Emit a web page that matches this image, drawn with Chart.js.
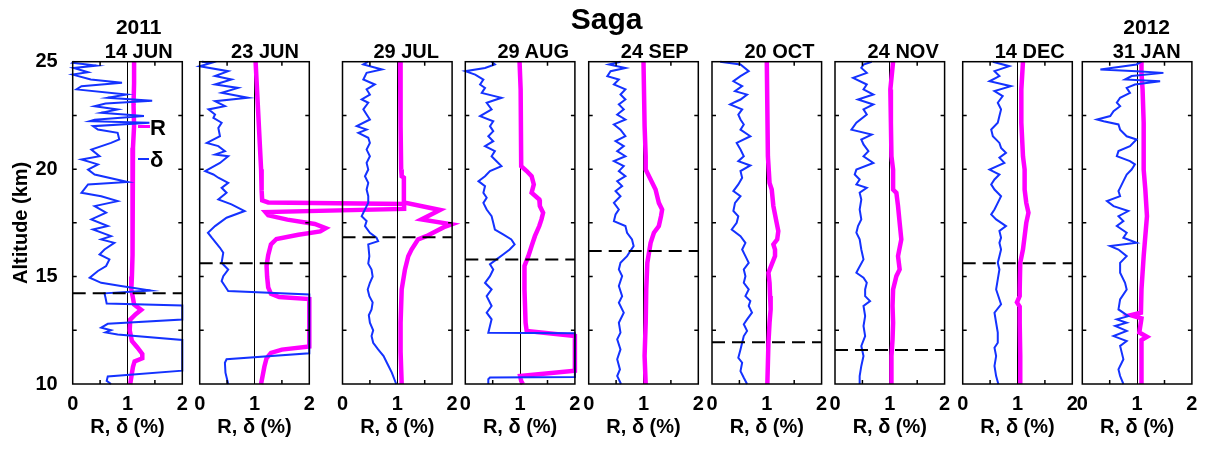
<!DOCTYPE html>
<html>
<head>
<meta charset="utf-8">
<script src="https://cdn.jsdelivr.net/npm/chart.js@4.4.1/dist/chart.umd.min.js"></script>
<style>
  html, body { margin: 0; padding: 0; background: #fff; }
  #wrap { position: relative; width: 1208px; height: 452px; overflow: hidden;
          font-family: 'Liberation Sans', Arial, sans-serif; color: #000; }
  #wrap canvas { position: absolute; left: 0; top: 0; }
  .lbl { position: absolute; font-weight: bold; line-height: 1; white-space: nowrap; transform: translateX(-50%); }
  .leg { position: absolute; font-weight: bold; line-height: 1; font-size: 22px; }
  .legline { position: absolute; }
</style>
</head>
<body>
<div id="wrap"></div>
<script>
'use strict';

// ── 観測日・圏界面高度 ──
const DATES = ['14 JUN', '23 JUN', '29 JUL', '29 AUG', '24 SEP', '20 OCT', '24 NOV', '14 DEC', '31 JAN'];
const YEARS = ['2011', '', '', '', '', '', '', '', '2012'];
const TROPOPAUSE = [14.22, 15.62, 16.83, 15.80, 16.19, 11.94, 11.58, 15.62, null];
const X_TICKS_MINOR = [0.5, 1.5];
const Y_TICKS_MINOR = [12.5, 15, 17.5, 20, 22.5];

// ── 偏光解消度 δ (%) : [高度 km, 値] ──
const DELTA_14JUN = [[25.0,0.03],[24.95,0.0],[24.82,0.43],[24.71,0.02],[24.51,0.28],[24.4,0.0],[24.17,0.33],[24.02,0.9],[23.86,0.16],[23.71,0.07],[23.47,0.98],[23.32,0.64],[23.18,1.45],[23.05,0.6],[22.93,0.4],[22.78,0.82],[22.62,0.52],[22.47,1.3],[22.3,0.4],[22.23,0.31],[22.16,1.4],[22.0,0.37],[21.84,0.46],[21.69,0.82],[21.38,0.85],[21.22,0.7],[20.91,0.34],[20.6,0.49],[20.45,0.16],[20.22,0.46],[19.98,0.28],[19.75,0.4],[19.4,1.0],[19.29,0.28],[18.9,0.16],[18.74,0.52],[18.51,0.82],[18.28,0.4],[17.97,0.61],[17.66,0.34],[17.35,0.64],[17.19,0.37],[16.88,0.7],[16.73,0.52],[16.57,0.76],[16.26,0.58],[16.03,0.49],[15.8,0.67],[15.49,0.61],[15.26,0.46],[14.95,0.31],[14.71,0.52],[14.56,0.88],[14.35,1.42],[14.22,0.58],[14.0,0.6],[13.75,0.62],[13.65,2.0],[13.0,2.0],[12.8,0.64],[12.62,0.52],[12.5,0.7],[12.4,0.6],[12.3,0.82],[12.05,2.0],[10.62,2.0],[10.35,0.64],[10.15,0.62],[10.0,0.7]];
const DELTA_23JUN = [[25.0,0.04],[24.95,0.22],[24.79,0.0],[24.56,0.52],[24.33,0.28],[24.17,0.58],[23.94,0.28],[23.78,0.7],[23.55,0.4],[23.32,0.88],[23.16,0.28],[22.93,0.46],[22.78,0.16],[22.54,0.28],[22.39,0.25],[22.16,0.4],[21.92,0.34],[21.53,0.37],[21.22,0.13],[21.07,0.34],[20.84,0.46],[20.68,0.28],[20.6,0.52],[20.29,0.37],[19.91,0.1],[19.75,0.25],[19.6,0.34],[19.36,0.52],[19.13,0.4],[18.9,0.49],[18.59,0.34],[18.36,0.58],[18.05,0.82],[17.74,0.49],[17.35,0.28],[17.04,0.15],[16.81,0.22],[16.34,0.37],[16.11,0.43],[15.64,0.4],[15.33,0.52],[15.02,0.43],[14.79,0.4],[14.56,0.46],[14.33,0.52],[14.17,2.0],[11.43,2.0],[11.15,0.49],[10.99,0.46],[10.53,0.47],[10.0,0.52]];
const DELTA_29JUL = [[25.0,0.47],[24.87,0.38],[24.64,0.72],[24.48,0.44],[24.17,0.38],[23.94,0.59],[23.71,0.44],[23.47,0.5],[23.24,0.35],[23.09,0.47],[22.78,0.38],[22.54,0.44],[22.31,0.5],[22.0,0.26],[21.84,0.44],[21.69,0.29],[21.46,0.47],[21.22,0.5],[20.91,0.44],[20.6,0.5],[20.29,0.44],[19.98,0.47],[19.67,0.41],[19.36,0.47],[19.05,0.44],[18.74,0.47],[18.43,0.47],[17.97,0.38],[17.81,0.35],[17.58,0.44],[17.35,0.41],[17.04,0.5],[16.81,0.62],[16.65,0.65],[16.5,0.47],[15.95,0.49],[15.6,0.47],[15.33,0.53],[15.0,0.55],[14.71,0.5],[14.4,0.46],[14.09,0.49],[13.8,0.55],[13.47,0.53],[13.2,0.48],[12.85,0.5],[12.5,0.56],[12.23,0.53],[11.92,0.56],[11.61,0.65],[11.3,0.75],[10.99,0.81],[10.53,0.9],[10.0,0.98]];
const DELTA_29AUG = [[25.0,0.48],[24.87,0.54],[24.71,0.36],[24.56,0.0],[24.4,0.18],[24.17,0.33],[23.94,0.27],[23.78,0.36],[23.55,0.3],[23.32,0.66],[23.09,0.39],[22.78,0.48],[22.47,0.27],[22.23,0.51],[22.0,0.45],[21.77,0.51],[21.53,0.42],[21.3,0.51],[21.07,0.36],[20.84,0.54],[20.6,0.48],[20.37,0.57],[20.14,0.66],[19.91,0.45],[19.67,0.36],[19.44,0.24],[19.21,0.36],[18.9,0.33],[18.67,0.39],[18.43,0.33],[18.12,0.39],[17.81,0.48],[17.5,0.51],[17.19,0.54],[16.96,0.69],[16.73,0.84],[16.5,0.9],[16.26,0.81],[16.03,0.69],[15.8,0.57],[15.57,0.45],[15.33,0.51],[15.02,0.45],[14.71,0.36],[14.4,0.48],[14.09,0.39],[13.63,0.48],[13.32,0.39],[13.01,0.48],[12.7,0.45],[12.39,0.42],[12.36,2.0],[10.33,2.0],[10.3,0.45],[10.22,0.42],[10.0,0.42]];
const DELTA_24SEP = [[25.0,0.58],[24.87,0.37],[24.71,0.67],[24.56,0.4],[24.33,0.34],[24.17,0.55],[23.94,0.46],[23.71,0.67],[23.47,0.58],[23.24,0.67],[23.01,0.55],[22.78,0.64],[22.54,0.52],[22.31,0.67],[22.08,0.46],[21.84,0.58],[21.53,0.67],[21.3,0.49],[21.07,0.64],[20.84,0.52],[20.6,0.67],[20.37,0.46],[20.14,0.64],[19.91,0.55],[19.67,0.67],[19.44,0.52],[19.21,0.61],[18.98,0.49],[18.74,0.58],[18.43,0.46],[18.12,0.55],[17.89,0.49],[17.58,0.46],[17.35,0.67],[17.04,0.7],[16.73,0.79],[16.42,0.82],[16.19,0.76],[15.95,0.7],[15.64,0.58],[15.33,0.55],[15.02,0.61],[14.56,0.55],[14.09,0.61],[13.78,0.55],[13.32,0.64],[12.85,0.55],[12.39,0.58],[12.08,0.52],[11.61,0.58],[11.15,0.52],[10.68,0.57],[10.37,0.52],[10.0,0.59]];
const DELTA_20OCT = [[25.0,0.15],[24.87,0.52],[24.56,0.67],[24.33,0.52],[24.09,0.39],[23.86,0.55],[23.63,0.42],[23.47,0.64],[23.24,0.52],[23.01,0.33],[22.78,0.55],[22.54,0.48],[22.31,0.52],[22.08,0.58],[21.84,0.52],[21.53,0.7],[21.22,0.45],[20.91,0.52],[20.6,0.58],[20.37,0.48],[20.17,0.7],[19.91,0.52],[19.6,0.55],[19.29,0.48],[18.98,0.39],[18.74,0.52],[18.43,0.42],[18.05,0.39],[17.81,0.48],[17.5,0.45],[17.19,0.36],[16.88,0.52],[16.57,0.61],[16.26,0.55],[15.95,0.61],[15.64,0.67],[15.33,0.58],[15.02,0.61],[14.71,0.58],[14.4,0.67],[14.09,0.61],[13.86,0.7],[13.63,0.67],[13.32,0.73],[13.01,0.64],[12.78,0.58],[12.47,0.64],[12.23,0.58],[11.92,0.55],[11.61,0.52],[11.22,0.48],[10.99,0.55],[10.6,0.52],[10.29,0.58],[10.0,0.64]];
const DELTA_24NOV = [[25.0,0.67],[24.87,0.52],[24.71,0.48],[24.48,0.58],[24.25,0.33],[23.94,0.58],[23.71,0.52],[23.47,0.7],[23.24,0.42],[23.01,0.7],[22.78,0.52],[22.54,0.58],[22.16,0.39],[21.84,0.3],[21.61,0.67],[21.38,0.48],[21.15,0.52],[20.84,0.61],[20.6,0.52],[20.29,0.7],[19.98,0.39],[19.75,0.36],[19.52,0.45],[19.29,0.39],[19.13,0.58],[18.9,0.45],[18.59,0.48],[18.12,0.45],[17.66,0.48],[17.35,0.42],[17.04,0.39],[16.73,0.45],[16.26,0.48],[15.8,0.52],[15.33,0.42],[15.18,0.39],[14.95,0.52],[14.71,0.58],[14.4,0.55],[14.09,0.55],[13.86,0.64],[13.63,0.52],[13.16,0.55],[12.7,0.52],[12.23,0.55],[11.77,0.48],[11.3,0.52],[10.84,0.48],[10.37,0.45],[10.0,0.45]];
const DELTA_14DEC = [[25.0,0.55],[24.79,0.85],[24.56,0.58],[24.33,0.67],[24.09,0.49],[23.86,0.88],[23.63,0.58],[23.4,0.73],[23.09,0.64],[22.78,0.7],[22.47,0.67],[22.16,0.64],[21.84,0.52],[21.53,0.55],[21.22,0.67],[20.99,0.7],[20.76,0.79],[20.53,0.67],[20.29,0.76],[19.98,0.49],[19.75,0.67],[19.52,0.58],[19.29,0.52],[19.05,0.58],[18.74,0.7],[18.43,0.64],[18.12,0.58],[17.89,0.52],[17.66,0.61],[17.35,0.79],[17.12,0.67],[16.81,0.7],[16.57,0.67],[16.26,0.7],[15.95,0.67],[15.64,0.64],[15.33,0.67],[14.87,0.64],[14.4,0.61],[13.71,0.7],[13.32,0.58],[12.85,0.61],[12.39,0.64],[11.92,0.64],[11.69,0.58],[11.3,0.61],[10.84,0.58],[10.37,0.61],[10.0,0.65]];
const DELTA_31JAN = [[25.0,1.08],[24.87,0.99],[24.64,0.33],[24.56,0.99],[24.48,1.48],[24.33,0.9],[24.17,0.78],[24.09,1.42],[23.94,0.96],[23.78,0.81],[23.55,0.87],[23.32,0.69],[23.09,0.63],[22.93,0.69],[22.7,0.57],[22.47,0.51],[22.31,0.27],[22.23,0.39],[22.08,0.66],[21.84,0.69],[21.53,0.81],[21.38,0.99],[21.07,0.87],[20.84,0.66],[20.6,0.63],[20.37,0.87],[20.22,0.96],[19.98,0.9],[19.75,0.81],[19.44,0.75],[19.13,0.69],[18.98,0.66],[18.74,0.69],[18.51,0.45],[18.28,0.57],[18.05,0.84],[17.81,0.66],[17.58,0.75],[17.35,0.63],[17.04,0.81],[16.81,0.75],[16.57,0.99],[16.42,0.51],[16.26,0.66],[15.95,0.81],[15.64,0.69],[15.18,0.69],[14.71,0.78],[14.4,0.81],[13.94,0.69],[13.47,0.66],[13.16,0.84],[13.01,0.63],[12.85,0.81],[12.7,0.6],[12.47,0.81],[12.23,0.57],[12.0,0.81],[11.77,0.69],[11.46,0.72],[11.15,0.75],[10.68,0.66],[10.37,0.69],[10.0,0.75]];

// ── 後方散乱比 R : [高度 km, 値] ──
const R_14JUN = [[25,1.12],[24,1.12],[23,1.11],[22,1.12],[21,1.1],[20,1.1],[19,1.09],[18,1.09],[17,1.09],[16,1.09],[15,1.08],[14.4,1.07],[14.0,1.1],[13.7,1.12],[13.45,1.25],[13.25,1.15],[13.0,1.05],[12.5,1.04],[12.0,1.08],[11.7,1.18],[11.4,1.27],[11.2,1.27],[11.05,1.13],[10.8,1.1],[10.5,1.08],[10.0,1.05]];
const R_23JUN = [[25,1.02],[24,1.04],[23,1.06],[22,1.08],[21,1.1],[20,1.12],[19,1.13],[18.55,1.14],[18.45,1.25],[18.38,3.73],[18.15,3.73],[18.0,1.2],[17.85,1.25],[17.65,1.6],[17.45,2.1],[17.25,2.3],[17.1,2.2],[16.95,1.8],[16.75,1.4],[16.5,1.3],[16.0,1.25],[15.5,1.22],[15.0,1.23],[14.5,1.25],[14.2,1.3],[14.05,1.45],[13.95,2.0],[11.75,2.0],[11.6,1.5],[11.45,1.3],[11.2,1.22],[10.8,1.18],[10.4,1.15],[10.0,1.12]];
const R_29JUL = [[25,1.05],[22,1.06],[20,1.07],[19.67,1.08],[19.6,1.12],[18.8,1.12],[18.45,1.12],[18.1,1.78],[17.66,1.44],[17.43,1.99],[17.3,1.85],[16.88,1.53],[16.73,1.38],[16.26,1.26],[15.95,1.2],[15.33,1.14],[14.4,1.08],[12.85,1.06],[11.5,1.06],[10.0,1.08]];
const R_29AUG = [[25,0.99],[23.7,1.01],[20.14,1.02],[19.91,1.12],[19.67,1.21],[19.29,1.25],[18.9,1.21],[18.59,1.35],[18.28,1.36],[17.97,1.42],[17.66,1.39],[17.35,1.35],[16.88,1.27],[16.42,1.21],[15.95,1.15],[15.49,1.08],[14.4,1.08],[12.85,1.1],[12.47,1.12],[12.23,2.0],[10.62,2.0],[10.37,1.0],[10.14,1.02],[10.0,1.05]];
const R_24SEP = [[25,1.0],[22,1.02],[20.6,1.04],[19.98,1.04],[19.52,1.13],[19.05,1.22],[18.74,1.25],[18.43,1.28],[18.12,1.34],[17.81,1.32],[17.35,1.28],[17.04,1.19],[16.57,1.13],[16.11,1.1],[15.64,1.07],[14.4,1.05],[12.85,1.04],[11.3,1.02],[10.0,1.04]];
const R_20OCT = [[25,1.0],[20.6,1.02],[19.36,1.05],[19.05,1.09],[18.28,1.12],[17.5,1.18],[17.12,1.21],[16.73,1.19],[16.5,1.12],[16.26,1.15],[15.95,1.15],[15.57,1.09],[15.18,1.03],[14.71,1.05],[14.09,1.06],[13.47,1.07],[12.85,1.05],[11.92,1.03],[10.0,1.01]];
const R_24NOV = [[25,1.06],[23.71,1.01],[22.16,1.02],[20.6,1.03],[19.98,1.06],[19.05,1.06],[18.9,1.12],[18.28,1.15],[17.5,1.18],[16.73,1.21],[15.95,1.15],[15.33,1.18],[15.02,1.12],[14.4,1.06],[13.63,1.05],[12.85,1.06],[12.08,1.05],[11.3,1.03],[10.0,1.03]];
const R_14DEC = [[25,1.1],[23.71,1.07],[22.16,1.07],[20.6,1.1],[19.98,1.13],[19.05,1.13],[18.43,1.16],[17.97,1.2],[17.5,1.16],[16.88,1.13],[16.26,1.1],[15.64,1.05],[14.4,1.04],[14.09,1.04],[13.8,0.99],[13.6,1.04],[12.85,1.04],[11.3,1.05],[10.0,1.05]];
const R_31JAN = [[25,1.08],[24.48,1.08],[23.71,1.1],[22.16,1.12],[19.98,1.12],[19.05,1.15],[17.81,1.18],[17.19,1.16],[15.95,1.12],[14.4,1.08],[13.32,1.07],[13.2,0.88],[13.05,1.08],[12.4,1.04],[12.2,1.18],[12.05,1.08],[11.3,1.08],[10.0,1.08]];

const DELTA = [DELTA_14JUN, DELTA_23JUN, DELTA_29JUL, DELTA_29AUG, DELTA_24SEP, DELTA_20OCT, DELTA_24NOV, DELTA_14DEC, DELTA_31JAN];
const RATIO = [R_14JUN, R_23JUN, R_29JUL, R_29AUG, R_24SEP, R_20OCT, R_24NOV, R_14DEC, R_31JAN];

// ── レイアウト ──
const W = 1208, H = 452;
const PANEL_LEFT = [72.7, 199.7, 342.5, 465.3, 588.7, 712, 835, 962.7, 1082.3];
const PANEL_W = 109.6;
const PLOT_TOP = 61.7, PLOT_BOTTOM = 384;
const X_AXIS_H = 60;
const TITLE_X = [138.7, 265, 406.2, 533.2, 654.7, 779.5, 903.2, 1029.7, 1146.7];
const BLUE = '#1432ff', MAGENTA = '#ff00ff';
const FONT = "'Liberation Sans', Arial, sans-serif";

Chart.defaults.font.family = FONT;
Chart.defaults.color = '#000';

const framePlugin = {
    id: 'frame',
    afterDatasetsDraw(chart) {
        const { ctx, chartArea: a, scales: { x, y } } = chart;
        ctx.save();
        ctx.strokeStyle = '#000';
        ctx.lineWidth = 1.5;
        ctx.strokeRect(a.left, a.top, a.right - a.left, a.bottom - a.top);
        ctx.beginPath();
        Y_TICKS_MINOR.forEach(v => {
            const p = y.getPixelForValue(v);
            ctx.moveTo(a.left, p); ctx.lineTo(a.left + 4, p);
            ctx.moveTo(a.right, p); ctx.lineTo(a.right - 4, p);
        });
        X_TICKS_MINOR.forEach(v => {
            const p = x.getPixelForValue(v);
            ctx.moveTo(p, a.top); ctx.lineTo(p, a.top + 4);
            ctx.moveTo(p, a.bottom); ctx.lineTo(p, a.bottom - 4);
        });
        ctx.stroke();
        ctx.restore();
    },
};

const toPts = rows => rows.map(r => ({ x: r[1], y: r[0] }));
const wrap = document.getElementById('wrap');

function makePanel(i) {
    const canvas = document.createElement('canvas');
    canvas.width = W;
    canvas.height = H;
    wrap.appendChild(canvas);
    const first = i === 0;
    const base = { showLine: true, pointRadius: 0, fill: false, clip: false, tension: 0 };
    const datasets = [
        { ...base, label: 'δ', data: toPts(DELTA[i]), borderColor: BLUE, borderWidth: 2, order: 1 },
        { ...base, label: 'R', data: toPts(RATIO[i]), borderColor: MAGENTA, borderWidth: 4.5, order: 2 },
    ];
    if (TROPOPAUSE[i] !== null) {
        datasets.push({ ...base, label: 'tropopause', data: [{ x: 0, y: TROPOPAUSE[i] }, { x: 2, y: TROPOPAUSE[i] }],
            borderColor: '#000', borderWidth: 2, borderDash: [13, 7], order: 0 });
    }
    const bold20 = { size: 20, weight: 'bold' };
    new Chart(canvas, {
        type: 'scatter',
        data: { datasets },
        plugins: [framePlugin],
        options: {
            responsive: false,
            animation: false,
            devicePixelRatio: 1,
            layout: { padding: {
                left: first ? 0 : PANEL_LEFT[i],
                right: W - PANEL_LEFT[i] - PANEL_W,
                top: PLOT_TOP,
                bottom: H - PLOT_BOTTOM - X_AXIS_H,
            } },
            plugins: { legend: { display: false }, tooltip: { enabled: false } },
            scales: {
                x: {
                    type: 'linear', min: 0, max: 2,
                    afterFit: s => { s.height = X_AXIS_H; },
                    ticks: { stepSize: 1, padding: 8, font: bold20, maxRotation: 0, autoSkip: false },
                    grid: { drawTicks: false, lineWidth: 1,
                            color: c => (c.tick && c.tick.value === 1 ? '#000' : 'rgba(0,0,0,0)') },
                    border: { display: false },
                    title: { display: true, text: 'R, δ (%)', font: bold20, padding: { top: 0, bottom: 5 } },
                },
                y: {
                    type: 'linear', min: 10, max: 25, display: first,
                    afterFit: s => { if (first) s.width = PANEL_LEFT[0]; },
                    ticks: { stepSize: 5, padding: 15, font: bold20 },
                    grid: { drawOnChartArea: false, drawTicks: false },
                    border: { display: false },
                    title: { display: true, text: 'Altitude (km)', font: bold20, padding: { top: 9, bottom: 0 } },
                },
            },
        },
    });
}

for (let i = 0; i < DATES.length; i++) makePanel(i);

// ── 表題・日付・凡例（テキスト） ──
function addText(cls, text, left, top, size) {
    const d = document.createElement('div');
    d.className = cls;
    d.textContent = text;
    d.style.left = left + 'px';
    d.style.top = top + 'px';
    if (size) d.style.fontSize = size + 'px';
    wrap.appendChild(d);
    return d;
}
addText('lbl', 'Saga', 606.7, 4.4, 30);
DATES.forEach((t, i) => addText('lbl', t, TITLE_X[i], 40.7, 20));
YEARS.forEach((t, i) => { if (t) addText('lbl', t, TITLE_X[i], 15.6, 21); });

function addLegendLine(color, left, top, width, height) {
    const d = document.createElement('div');
    d.className = 'legline';
    Object.assign(d.style, { left: left + 'px', top: top + 'px', width: width + 'px', height: height + 'px', background: color });
    wrap.appendChild(d);
}
addLegendLine(MAGENTA, 138.3, 124.5, 11.7, 3);
addText('leg', 'R', 150, 117.1);
addLegendLine(BLUE, 138.3, 158.3, 11, 2);
addText('leg', 'δ', 150, 148.5);
</script>
</body>
</html>
